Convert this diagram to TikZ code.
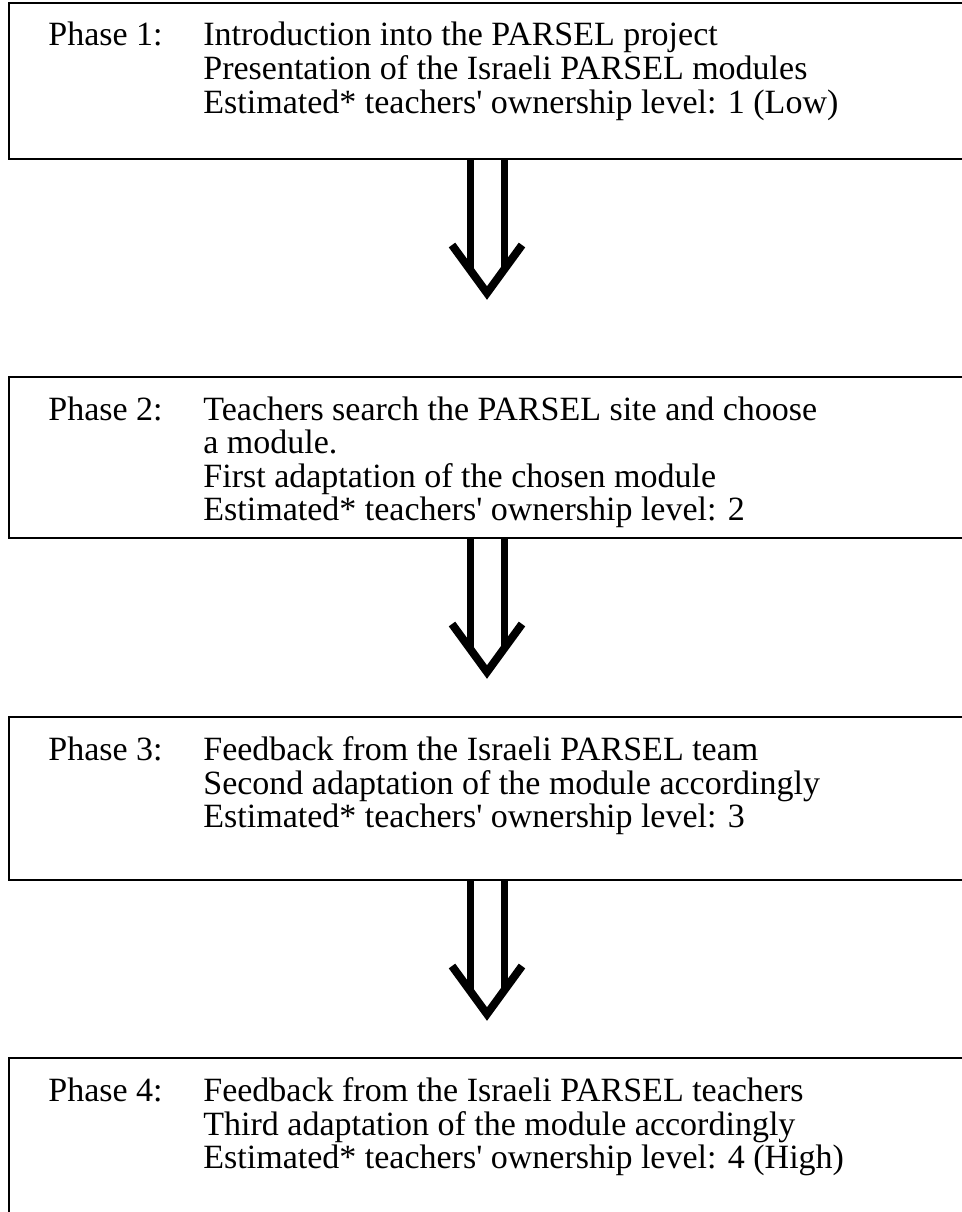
\documentclass[tikz,border=0pt]{standalone}
\usepackage{fontspec}
\setmainfont{Liberation Serif}
\usetikzlibrary{positioning}
\tikzset{
    % Define style for the phase boxes
    phase/.style={
           rectangle,
           draw=black, line width=1pt,
           minimum width=478pt,
           inner sep=0pt,
           anchor=north west},
    % Define style for the text in a box
    phasetext/.style={
           inner sep=0pt,
           font=\fontsize{17}{16.5}\selectfont},
    % Define arrow styles
    shaft/.style={line width=3.5pt},
    head/.style={line width=4pt}
}
\newcommand{\sq}{\textquotesingle}

\begin{document}
\begin{tikzpicture}
  \useasboundingbox (0,0) rectangle (481pt,-606pt);
  \clip (0,0) rectangle (481pt,-606pt);
  \node[phase, minimum height=78pt] (p1) at (4pt,-1pt) {};
  \node[phase, minimum height=80.5pt, below=108pt of p1.south west, anchor=north west] (p2) {};
  \node[phase, minimum height=81.5pt, below=88.5pt of p2.south west, anchor=north west] (p3) {};
  \node[phase, minimum height=100pt, below=88pt of p3.south west, anchor=north west] (p4) {};
  \node[phasetext, below right=10pt and 20pt of p1.north west] (t1) {%
    \begin{tabular}{@{}p{77.5pt}@{}l@{}}
      Phase 1: & Introduction into the PARSEL project\\
               & Presentation of the Israeli PARSEL modules\\
               & Estimated* teachers\sq{} ownership level: 1 (Low)
    \end{tabular}};
  \node[phasetext, below right=10pt and 20pt of p2.north west] (t2) {%
    \begin{tabular}{@{}p{77.5pt}@{}l@{}}
      Phase 2: & Teachers search the PARSEL site and choose\\
               & a module.\\
               & First adaptation of the chosen module\\
               & Estimated* teachers\sq{} ownership level: 2
    \end{tabular}};
  \node[phasetext, below right=10pt and 20pt of p3.north west] (t3) {%
    \begin{tabular}{@{}p{77.5pt}@{}l@{}}
      Phase 3: & Feedback from the Israeli PARSEL team\\
               & Second adaptation of the module accordingly\\
               & Estimated* teachers\sq{} ownership level: 3
    \end{tabular}};
  \node[phasetext, below right=10pt and 20pt of p4.north west] (t4) {%
    \begin{tabular}{@{}p{77.5pt}@{}l@{}}
      Phase 4: & Feedback from the Israeli PARSEL teachers\\
               & Third adaptation of the module accordingly\\
               & Estimated* teachers\sq{} ownership level: 4 (High)
    \end{tabular}};
  % double arrows between the phases
  \coordinate[below=66.5pt of p1.south] (tip1);
  \coordinate[below=66.5pt of p2.south] (tip2);
  \coordinate[below=66.5pt of p3.south] (tip3);
  \draw[shaft]
      ([xshift=-8.5pt]p1.south) -- ([shift={(-8.5pt,11.5pt)}]tip1)
      ([xshift=8.5pt]p1.south) -- ([shift={(8.5pt,11.5pt)}]tip1)
      ([xshift=-8.5pt]p2.south) -- ([shift={(-8.5pt,11.5pt)}]tip2)
      ([xshift=8.5pt]p2.south) -- ([shift={(8.5pt,11.5pt)}]tip2)
      ([xshift=-8.5pt]p3.south) -- ([shift={(-8.5pt,11.5pt)}]tip3)
      ([xshift=8.5pt]p3.south) -- ([shift={(8.5pt,11.5pt)}]tip3);
  \draw[head] ([shift={(-17.5pt,24pt)}]tip1) -- (tip1) -- ([shift={(17.5pt,24pt)}]tip1);
  \draw[head] ([shift={(-17.5pt,24pt)}]tip2) -- (tip2) -- ([shift={(17.5pt,24pt)}]tip2);
  \draw[head] ([shift={(-17.5pt,24pt)}]tip3) -- (tip3) -- ([shift={(17.5pt,24pt)}]tip3);
\end{tikzpicture}
\end{document}
